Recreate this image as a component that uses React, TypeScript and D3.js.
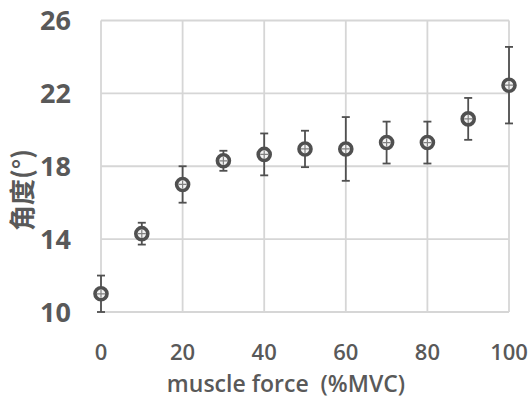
import React, { useEffect, useRef } from 'react';
import * as d3 from 'd3';

// muscle force (%MVC) vs angle, mean +- sd
const forces = [0, 10, 20, 30, 40, 50, 60, 70, 80, 90, 100];
const angles = [11.0, 14.3, 17.0, 18.3, 18.65, 18.95, 18.95, 19.3, 19.3, 20.6, 22.45];
const sds = [1.0, 0.6, 1.0, 0.55, 1.15, 1.0, 1.75, 1.15, 1.15, 1.15, 2.1];
const xTicks = [0, 20, 40, 60, 80, 100];
const yTicks = [10, 14, 18, 22, 26];

const W = 530;
const H = 401;
const textColor = '#595959';
const gridColor = '#d6d6d6';
const markColor = '#505050';

const ScatterPlot = () => {
  const svgRef = useRef<SVGSVGElement>(null);

  useEffect(() => {
    const svg = d3.select(svgRef.current);
    svg.selectAll('*').remove();

    const x = d3.scaleLinear().domain([0, 100]).range([101, 509]);
    const y = d3.scaleLinear().domain([10, 26]).range([312, 20.5]);

    // grid
    const grid = svg.append('g').attr('stroke', gridColor).attr('stroke-width', 1.8);
    grid
      .selectAll('line.h')
      .data(yTicks)
      .enter()
      .append('line')
      .attr('x1', x(0))
      .attr('x2', x(100))
      .attr('y1', d => y(d))
      .attr('y2', d => y(d));
    grid
      .selectAll('line.v')
      .data(xTicks)
      .enter()
      .append('line')
      .attr('x1', d => x(d))
      .attr('x2', d => x(d))
      .attr('y1', y(10))
      .attr('y2', y(26));

    // y tick labels
    svg
      .append('g')
      .selectAll('text')
      .data(yTicks)
      .enter()
      .append('text')
      .attr('x', 71)
      .attr('y', d => y(d))
      .attr('dy', '0.36em')
      .attr('text-anchor', 'end')
      .attr('font-family', '"Open Sans", sans-serif')
      .attr('font-weight', 'bold')
      .attr('font-size', 27)
      .attr('fill', textColor)
      .text(d => d);

    // x tick labels
    svg
      .append('g')
      .selectAll('text')
      .data(xTicks)
      .enter()
      .append('text')
      .attr('x', d => x(d))
      .attr('y', 352.5)
      .attr('dy', '0.36em')
      .attr('text-anchor', 'middle')
      .attr('font-family', '"Open Sans", sans-serif')
      .attr('font-weight', 600)
      .attr('font-size', 22)
      .attr('fill', textColor)
      .text(d => d);

    // axis titles
    svg
      .append('text')
      .attr('x', 286)
      .attr('y', 392)
      .attr('text-anchor', 'middle')
      .attr('font-family', '"Open Sans", sans-serif')
      .attr('font-weight', 600)
      .attr('font-size', 23)
      .attr('fill', textColor)
      .style('white-space', 'pre')
      .text('muscle force  (%MVC)');

    svg
      .append('text')
      .attr('transform', 'translate(32,190) rotate(-90)')
      .attr('text-anchor', 'middle')
      .attr('font-family', '"Noto Sans CJK SC", sans-serif')
      .attr('font-weight', 'bold')
      .attr('font-size', 26)
      .attr('fill', textColor)
      .text('角度(°)');

    const data = forces.map((f, i) => ({ f, m: angles[i], s: sds[i] }));

    // error bars
    const eb = svg.append('g').attr('stroke', markColor).attr('stroke-width', 1.8);
    eb.selectAll('line.stem')
      .data(data)
      .enter()
      .append('line')
      .attr('x1', d => x(d.f))
      .attr('x2', d => x(d.f))
      .attr('y1', d => y(d.m + d.s))
      .attr('y2', d => y(d.m - d.s));
    eb.selectAll('line.top')
      .data(data)
      .enter()
      .append('line')
      .attr('x1', d => x(d.f) - 4)
      .attr('x2', d => x(d.f) + 4)
      .attr('y1', d => y(d.m + d.s))
      .attr('y2', d => y(d.m + d.s));
    eb.selectAll('line.bot')
      .data(data)
      .enter()
      .append('line')
      .attr('x1', d => x(d.f) - 4)
      .attr('x2', d => x(d.f) + 4)
      .attr('y1', d => y(d.m - d.s))
      .attr('y2', d => y(d.m - d.s));

    // markers
    const pts = svg
      .append('g')
      .selectAll('g')
      .data(data)
      .enter()
      .append('g')
      .attr('transform', d => `translate(${x(d.f)},${y(d.m)})`);
    pts
      .append('circle')
      .attr('r', 6)
      .attr('fill', '#f2f2f2')
      .attr('stroke', markColor)
      .attr('stroke-width', 3.6);
    pts
      .append('path')
      .attr('d', 'M-4,0H4M0,-4V4')
      .attr('stroke', '#808080')
      .attr('stroke-width', 1.2);
  }, []);

  return <svg ref={svgRef} width={W} height={H} style={{ display: 'block' }}></svg>;
};

export default function App() {
  return (
    <div style={{ position: 'absolute', left: 0, top: 0, background: '#fff' }}>
      <ScatterPlot />
    </div>
  );
}
